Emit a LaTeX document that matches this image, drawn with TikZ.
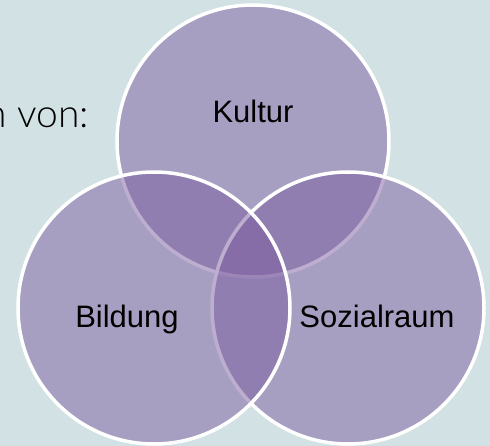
\documentclass[tikz,border=0pt]{standalone}
\usepackage{fontspec}
\setmainfont{Liberation Sans}
\newfontfamily\lightfont{Lato Light}
\usetikzlibrary{calc}
\definecolor{bgblue}{HTML}{D2E1E3}
\definecolor{vennpurple}{HTML}{7D5EA0}
\tikzset{
  venn/.style={
    fill=vennpurple, fill opacity=0.5,
    draw=white, draw opacity=1, line width=3.5pt
  },
  label/.style={font=\fontsize{31}{31}\selectfont, text=black, anchor=base}
}

\begin{document}
\begin{tikzpicture}[x=1pt,y=-1pt]
  \def\R{136}
  \fill[bgblue] (0,0) rectangle (490,446);
  \useasboundingbox (0,0) rectangle (490,446);
  \clip (0,0) rectangle (490,446);

  \coordinate (K) at (253,141);
  \coordinate (S) at (348,308);
  \coordinate (B) at (154,308);

  \draw[venn] (K) circle (\R);
  \draw[venn] (S) circle (\R);
  \draw[venn] (B) circle (\R);

  \node[label] (kultur) at (253,123) {Kultur};
  \node[label] (bildung) at (127,327) {Bildung};
  \node[label] (sozial) at (377,327) {Sozialraum};

  \node[anchor=base east, inner sep=0pt, font=\lightfont\fontsize{39}{39}\selectfont] (von) at (89,128) {n von:};
\end{tikzpicture}
\end{document}
